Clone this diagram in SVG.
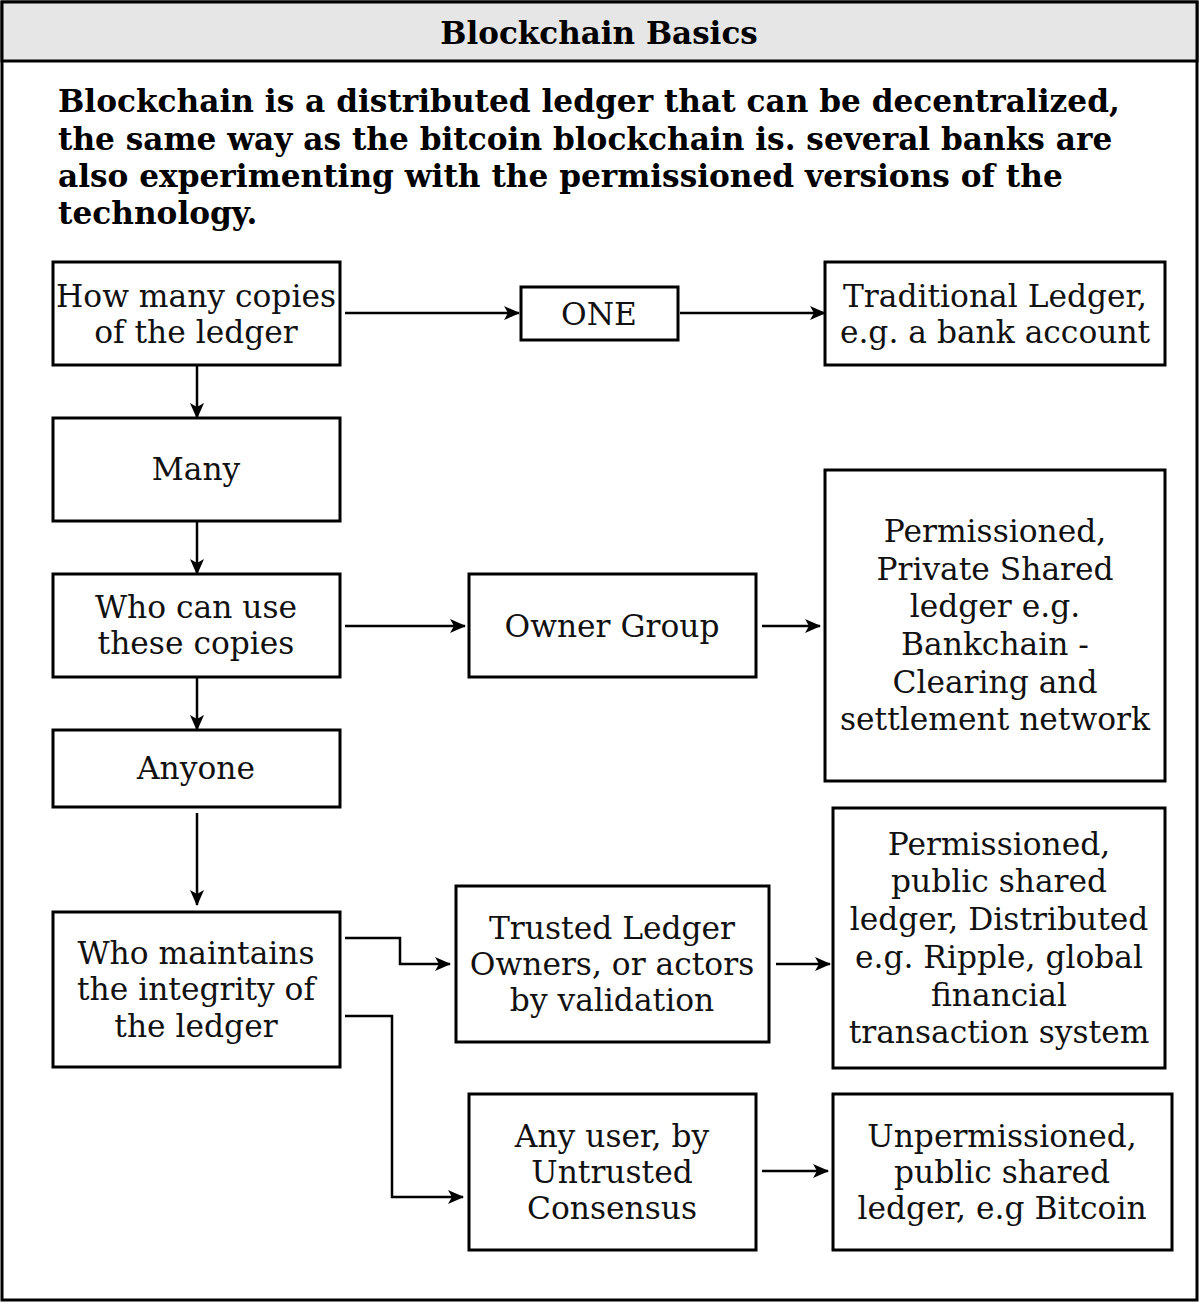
<svg xmlns="http://www.w3.org/2000/svg" width="1200" height="1304" viewBox="0 0 1200 1304">
<style>
.box{fill:#fff;stroke:#000;stroke-width:3}
.t{font-family:"DejaVu Serif","Liberation Serif",serif;font-size:31.3px;fill:#111;text-anchor:middle}
.b{font-family:"DejaVu Serif","Liberation Serif",serif;font-size:31.2px;font-weight:bold;fill:#000}
.c{fill:none;stroke:#000;stroke-width:2.5}
</style>
<defs>
<marker id="ah" viewBox="0 0 16 16" refX="15" refY="8" markerWidth="16" markerHeight="16" markerUnits="userSpaceOnUse" orient="auto">
<path d="M0,1 L16,8 L0,15 L4,8 z" fill="#000"/>
</marker>
</defs>
<rect x="0" y="0" width="1200" height="1304" fill="#fff"/>
<g id="frame">
<rect x="2" y="2" width="1195" height="1298" fill="#fff" stroke="#000" stroke-width="3"/>
<rect x="2" y="2" width="1195" height="59" fill="#e6e6e6" stroke="#000" stroke-width="3"/>
<text x="599" y="44" class="b" text-anchor="middle" style="font-size:31px">Blockchain Basics</text>
</g>
<g id="intro">
<text class="b" x="58" y="112">Blockchain is a distributed ledger that can be decentralized,</text>
<text class="b" x="58" y="150">the same way as the bitcoin blockchain is. several banks are</text>
<text class="b" x="58" y="187">also experimenting with the permissioned versions of the</text>
<text class="b" x="58" y="224">technology.</text>
</g>
<g id="connectors">
<path class="c" d="M345,313 H519" marker-end="url(#ah)"/>
<path class="c" d="M680,313 H825" marker-end="url(#ah)"/>
<path class="c" d="M197,365 V418" marker-end="url(#ah)"/>
<path class="c" d="M197,521 V574" marker-end="url(#ah)"/>
<path class="c" d="M345,626 H465" marker-end="url(#ah)"/>
<path class="c" d="M762,626 H820" marker-end="url(#ah)"/>
<path class="c" d="M197,677 V730" marker-end="url(#ah)"/>
<path class="c" d="M197,813 V905" marker-end="url(#ah)"/>
<path class="c" d="M345,938 H400 V964 H450" marker-end="url(#ah)"/>
<path class="c" d="M345,1016 H392 V1197 H463" marker-end="url(#ah)"/>
<path class="c" d="M776,964 H830" marker-end="url(#ah)"/>
<path class="c" d="M762,1171 H828" marker-end="url(#ah)"/>
</g>
<g id="n-copies"><rect class="box" x="53" y="262" width="287" height="103"/>
<text class="t" x="196" y="307">How many copies</text><text class="t" x="196" y="343">of the ledger</text></g>
<g id="n-one"><rect class="box" x="521" y="287" width="157" height="53"/>
<text class="t" x="599" y="325">ONE</text></g>
<g id="n-traditional"><rect class="box" x="825" y="262" width="340" height="103"/>
<text class="t" x="995" y="307">Traditional Ledger,</text><text class="t" x="995" y="343">e.g. a bank account</text></g>
<g id="n-many"><rect class="box" x="53" y="418" width="287" height="103"/>
<text class="t" x="196" y="480">Many</text></g>
<g id="n-whouse"><rect class="box" x="53" y="574" width="287" height="103"/>
<text class="t" x="196" y="618">Who can use</text><text class="t" x="196" y="654">these copies</text></g>
<g id="n-owner"><rect class="box" x="469" y="574" width="287" height="103"/>
<text class="t" x="612" y="637">Owner Group</text></g>
<g id="n-private"><rect class="box" x="825" y="470" width="340" height="311"/>
<text class="t" x="995" y="542">Permissioned,</text>
<text class="t" x="995" y="580">Private Shared</text>
<text class="t" x="995" y="617">ledger e.g.</text>
<text class="t" x="995" y="655">Bankchain -</text>
<text class="t" x="995" y="693">Clearing and</text>
<text class="t" x="995" y="730">settlement network</text></g>
<g id="n-anyone"><rect class="box" x="53" y="730" width="287" height="77"/>
<text class="t" x="196" y="779">Anyone</text></g>
<g id="n-maintains"><rect class="box" x="53" y="912" width="287" height="155"/>
<text class="t" x="196" y="964">Who maintains</text>
<text class="t" x="196" y="1000">the integrity of</text>
<text class="t" x="196" y="1037">the ledger</text></g>
<g id="n-trusted"><rect class="box" x="456" y="886" width="313" height="156"/>
<text class="t" x="612" y="939">Trusted Ledger</text>
<text class="t" x="612" y="975">Owners, or actors</text>
<text class="t" x="612" y="1011">by validation</text></g>
<g id="n-public"><rect class="box" x="833" y="808" width="332" height="260"/>
<text class="t" x="999" y="855">Permissioned,</text>
<text class="t" x="999" y="892">public shared</text>
<text class="t" x="999" y="930">ledger, Distributed</text>
<text class="t" x="999" y="968">e.g. Ripple, global</text>
<text class="t" x="999" y="1006">financial</text>
<text class="t" x="999" y="1043">transaction system</text></g>
<g id="n-anyuser"><rect class="box" x="469" y="1094" width="287" height="156"/>
<text class="t" x="612" y="1147">Any user, by</text>
<text class="t" x="612" y="1183">Untrusted</text>
<text class="t" x="612" y="1219">Consensus</text></g>
<g id="n-unperm"><rect class="box" x="833" y="1094" width="339" height="156"/>
<text class="t" x="1002" y="1147">Unpermissioned,</text>
<text class="t" x="1002" y="1183">public shared</text>
<text class="t" x="1002" y="1219">ledger, e.g Bitcoin</text></g>
</svg>
